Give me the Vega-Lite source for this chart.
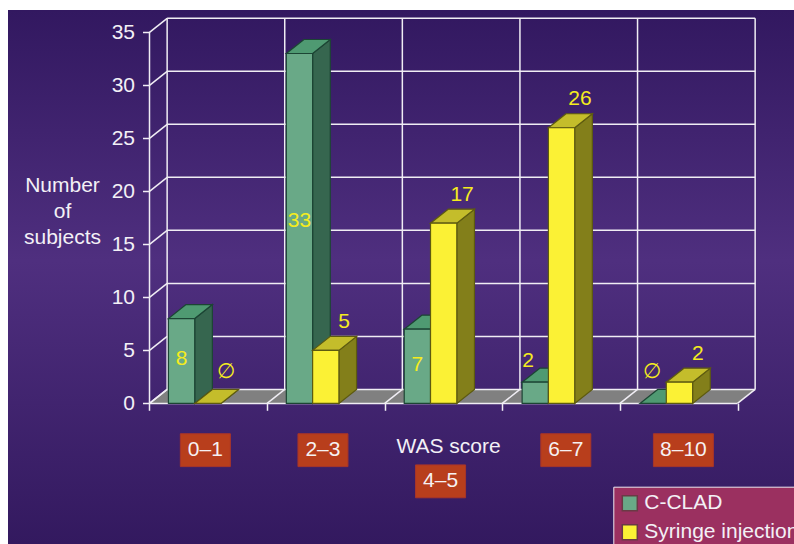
{
"$schema":"https://vega.github.io/schema/vega-lite/v6.json",
"width":786,"height":534,
"padding":{"left":8,"top":10,"right":0,"bottom":0},
"autosize":{"type":"none"},
"background":"#ffffff",
"config":{
 "view":{"stroke":null,"fill":{"x1":0,"y1":0,"x2":0,"y2":1,"gradient":"linear","stops":[{"offset":0,"color":"#321860"},{"offset":0.47,"color":"#4f2f7f"},{"offset":1,"color":"#33195f"}]}},
 "font":"Liberation Sans",
 "axis":{"grid":false,"domain":false,"tickColor":"#f0edf4","tickWidth":1.5,"tickSize":7,"labelColor":"#f3f0f6","labelFont":"Liberation Sans","labelFontSize":21,"titleColor":"#f3f0f6","titleFont":"Liberation Sans","titleFontSize":21,"titleFontWeight":"normal"},
 "legend":{"labelFont":"Liberation Sans"}
},
"datasets":{
 "bars":[
  {"score":"0–1","group":0,"series":"C-CLAD","value":8},
  {"score":"2–3","group":1,"series":"C-CLAD","value":33},
  {"score":"4–5","group":2,"series":"C-CLAD","value":7},
  {"score":"6–7","group":3,"series":"C-CLAD","value":2},
  {"score":"8–10","group":4,"series":"C-CLAD","value":0},
  {"score":"0–1","group":0,"series":"Syringe injection","value":0},
  {"score":"2–3","group":1,"series":"Syringe injection","value":5},
  {"score":"4–5","group":2,"series":"Syringe injection","value":17},
  {"score":"6–7","group":3,"series":"Syringe injection","value":26},
  {"score":"8–10","group":4,"series":"Syringe injection","value":2}
 ],
 "yt":[{"v":0},{"v":5},{"v":10},{"v":15},{"v":20},{"v":25},{"v":30},{"v":35}],
 "xt":[{"i":0},{"i":1},{"i":2},{"i":3},{"i":4},{"i":5}],
 "depth":[{"d":0},{"d":1}],
 "cats":[{"score":"0–1","group":0},{"score":"2–3","group":1},{"score":"4–5","group":2},{"score":"6–7","group":3},{"score":"8–10","group":4}]
},
"data":{"name":"bars"},
"transform":[
 {"calculate":"datum.group*1.0025+0.161+(datum.series==='C-CLAD'?0:0.2236)","as":"left"},
 {"calculate":"datum.left+0.2236","as":"right"},
 {"calculate":"[0,1]","as":"d"},
 {"flatten":["d"]},
 {"calculate":"datum.d*1.32","as":"base"},
 {"calculate":"datum.value+datum.base","as":"top"},
 {"calculate":"datum.left+datum.d*0.15","as":"xl"},
 {"calculate":"datum.right+datum.d*0.15","as":"xr"}
],
"resolve":{"scale":{"fill":"independent","stroke":"independent"}},
"layer":[
 {"data":{"name":"depth"},
  "transform":[{"calculate":"datum.d*0.15","as":"x1"},{"calculate":"5+datum.d*0.15","as":"x2"},{"calculate":"datum.d*1.32","as":"y1"}],
  "mark":{"type":"area","orient":"horizontal","fill":"#808080"},
  "encoding":{
   "x":{"field":"x1","type":"quantitative","scale":{"domain":[-1.2032,5.4804],"nice":false,"zero":false},
     "axis":{"values":[0,1,2,3,4,5],"labels":false,"offset":-140.7,"title":"WAS score","titleX":440,"titleY":43,"titleBaseline":"middle","titleAlign":"center"}},
   "x2":{"field":"x2"},
   "y":{"field":"y1","type":"quantitative","scale":{"domain":[-13.26,37.104],"nice":false,"zero":false},
     "axis":{"values":[0,5,10,15,20,25,30,35],"offset":-141.5,"labelPadding":8,"title":["Number","of","subjects"],"titleAngle":0,"titleX":-87.5,"titleY":175,"titleAlign":"center","titleBaseline":"middle","titleLineHeight":26}}
  }},
 {"data":{"name":"yt"},
  "transform":[{"calculate":"datum.v+1.32","as":"vb"},{"calculate":"0.15","as":"xa"},{"calculate":"5.15","as":"xb"}],
  "mark":{"type":"rule","color":"#f0edf4","strokeWidth":1.5},
  "encoding":{"x":{"field":"xa","type":"quantitative"},"x2":{"field":"xb"},"y":{"field":"vb","type":"quantitative"}}},
 {"data":{"name":"yt"},
  "transform":[{"calculate":"datum.v+1.32","as":"vb"},{"calculate":"0","as":"xa"},{"calculate":"0.15","as":"xb"}],
  "mark":{"type":"rule","color":"#f0edf4","strokeWidth":1.5},
  "encoding":{"x":{"field":"xa","type":"quantitative"},"x2":{"field":"xb"},"y":{"field":"v","type":"quantitative"},"y2":{"field":"vb"}}},
 {"data":{"name":"xt"},
  "transform":[{"calculate":"datum.i+0.15","as":"xb"},{"calculate":"1.32","as":"ya"},{"calculate":"36.32","as":"yb"}],
  "mark":{"type":"rule","color":"#f0edf4","strokeWidth":1.5},
  "encoding":{"x":{"field":"xb","type":"quantitative"},"y":{"field":"ya","type":"quantitative"},"y2":{"field":"yb"}}},
 {"data":{"name":"xt"},
  "transform":[{"calculate":"datum.i+0.15","as":"xb"},{"calculate":"0","as":"ya"},{"calculate":"1.32","as":"yb"}],
  "mark":{"type":"rule","color":"#f0edf4","strokeWidth":1.5},
  "encoding":{"x":{"field":"i","type":"quantitative"},"x2":{"field":"xb"},"y":{"field":"ya","type":"quantitative"},"y2":{"field":"yb"}}},
 {"data":{"name":"xt"},
  "transform":[{"filter":"datum.i===0"},{"calculate":"0","as":"ya"},{"calculate":"35","as":"yb"}],
  "mark":{"type":"rule","color":"#f0edf4","strokeWidth":1.5},
  "encoding":{"x":{"field":"i","type":"quantitative"},"y":{"field":"ya","type":"quantitative"},"y2":{"field":"yb"}}},
 {"data":{"name":"yt"},
  "transform":[{"filter":"datum.v===0"},{"calculate":"0","as":"xa"},{"calculate":"5","as":"xb"}],
  "mark":{"type":"rule","color":"#f0edf4","strokeWidth":1.5},
  "encoding":{"x":{"field":"xa","type":"quantitative"},"x2":{"field":"xb"},"y":{"field":"v","type":"quantitative"}}},

 {"transform":[{"filter":"datum.series==='C-CLAD'"}],
  "mark":{"type":"area","orient":"vertical","fill":"#36664f","stroke":"#1c4534","strokeWidth":1.2},
  "encoding":{"x":{"field":"xr","type":"quantitative"},"y":{"field":"top","type":"quantitative"},"y2":{"field":"base"},"detail":{"field":"score"}}},
 {"transform":[{"filter":"datum.series==='C-CLAD'"}],
  "mark":{"type":"area","orient":"horizontal","fill":"#4f9a72","stroke":"#1c4534","strokeWidth":1.2},
  "encoding":{"x":{"field":"xl","type":"quantitative"},"x2":{"field":"xr"},"y":{"field":"top","type":"quantitative"},"detail":{"field":"score"}}},
 {"transform":[{"filter":"datum.d===0"},{"filter":"datum.value>0"},{"filter":"datum.series==='C-CLAD'"}],
  "mark":{"type":"rect","stroke":"#1c4534","strokeWidth":1.2,"fill":"#69a987"},
  "encoding":{"x":{"field":"left","type":"quantitative"},"x2":{"field":"right"},"y":{"field":"value","type":"quantitative"},"y2":{"field":"base"}}},

 {"transform":[{"filter":"datum.series!=='C-CLAD'"}],
  "mark":{"type":"area","orient":"vertical","fill":"#837f1a","stroke":"#5d5a10","strokeWidth":1.2},
  "encoding":{"x":{"field":"xr","type":"quantitative"},"y":{"field":"top","type":"quantitative"},"y2":{"field":"base"},"detail":{"field":"score"}}},
 {"transform":[{"filter":"datum.series!=='C-CLAD'"}],
  "mark":{"type":"area","orient":"horizontal","fill":"#c4bd2b","stroke":"#5d5a10","strokeWidth":1.2},
  "encoding":{"x":{"field":"xl","type":"quantitative"},"x2":{"field":"xr"},"y":{"field":"top","type":"quantitative"},"detail":{"field":"score"}}},
 {"transform":[{"filter":"datum.d===0"},{"filter":"datum.value>0"},{"filter":"datum.series!=='C-CLAD'"}],
  "mark":{"type":"rect","stroke":"#5d5a10","strokeWidth":1.2,"fill":"#fbf135"},
  "encoding":{"x":{"field":"left","type":"quantitative"},"x2":{"field":"right"},"y":{"field":"value","type":"quantitative"},"y2":{"field":"base"}}},

 {"transform":[{"filter":"datum.d===0"},
   {"calculate":"datum.value===0?'∅':''+datum.value","as":"lab"},
   {"calculate":"datum.series==='C-CLAD'?(datum.value>=7?datum.left+0.112:(datum.value===0?datum.left+0.1:datum.left+0.05)):datum.right+0.045","as":"lx"},
   {"calculate":"datum.series==='C-CLAD'?(datum.value>=7?datum.value*0.52:3+datum.value*0.5):(datum.value===0?3:datum.value+2.7)","as":"ly"}],
  "mark":{"type":"text","color":"#f5ec1e","fontSize":21,"font":"Liberation Sans","align":"center","baseline":"middle"},
  "encoding":{"x":{"field":"lx","type":"quantitative"},"y":{"field":"ly","type":"quantitative"},"text":{"field":"lab"}}},

 {"data":{"name":"cats"},
  "transform":[
   {"calculate":"datum.group+0.475+(datum.group>=3?0.065:0)","as":"cx"},
   {"calculate":"datum.group===2?-7.35:-4.41","as":"cy"},
   {"calculate":"datum.score==='8–10'?0.255:0.2126","as":"hw"},
   {"calculate":"datum.cx-datum.hw","as":"x1"},{"calculate":"datum.cx+datum.hw","as":"x2"},
   {"calculate":"datum.cy-1.55","as":"y1"},{"calculate":"datum.cy+1.55","as":"y2"}],
  "mark":{"type":"rect","fill":"#b83e1c","stroke":"#a8352a","strokeWidth":1},
  "encoding":{"x":{"field":"x1","type":"quantitative"},"x2":{"field":"x2"},"y":{"field":"y1","type":"quantitative"},"y2":{"field":"y2"}}},
 {"data":{"name":"cats"},
  "transform":[
   {"calculate":"datum.group+0.475+(datum.group>=3?0.065:0)","as":"cx"},
   {"calculate":"datum.group===2?-7.35:-4.41","as":"cy"}],
  "mark":{"type":"text","color":"#f6f1f2","fontSize":21,"font":"Liberation Sans","align":"center","baseline":"middle"},
  "encoding":{"x":{"field":"cx","type":"quantitative"},"y":{"field":"cy","type":"quantitative"},"text":{"field":"score"}}},

 {"transform":[{"filter":"datum.d===0"},{"filter":"false"}],
  "mark":{"type":"rect"},
  "encoding":{
   "x":{"field":"left","type":"quantitative"},"x2":{"field":"right"},
   "y":{"field":"value","type":"quantitative"},"y2":{"field":"base"},
   "fill":{"field":"series","type":"nominal","scale":{"domain":["C-CLAD","Syringe injection"],"range":["#69a987","#fbf135"]},
    "legend":{"orient":"none","legendX":605.3,"legendY":476.7,"title":null,"fillColor":"#9b3060","strokeColor":"#f0e8f0","padding":6,"symbolType":"square","symbolSize":225,"symbolStrokeColor":"#6a3a45","symbolStrokeWidth":1.5,"labelColor":"#f3f0f6","labelFontSize":21,"labelOffset":4,"rowPadding":7,"labelLimit":300}}
  }}
]
}
